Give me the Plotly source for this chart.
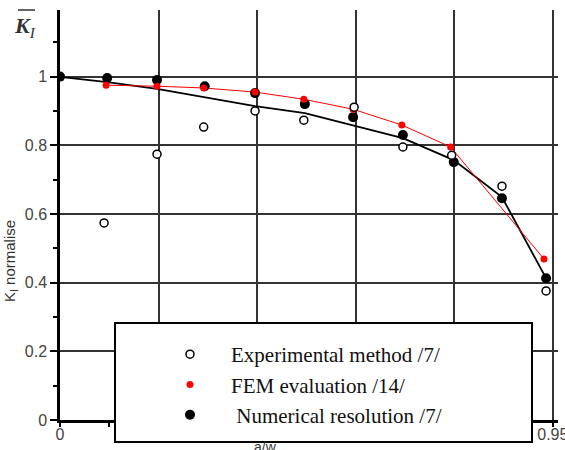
import plotly.graph_objects as go

# Experimental method /7/ (open circles)
exp_x = [0.085, 0.187, 0.277, 0.376, 0.470, 0.567, 0.661, 0.755, 0.852, 0.937]
exp_y = [0.574, 0.774, 0.853, 0.900, 0.873, 0.911, 0.795, 0.771, 0.681, 0.376]

# FEM evaluation /14/ (red)
fem_x = [0.089, 0.187, 0.277, 0.376, 0.470, 0.565, 0.659, 0.753, 0.933]
fem_y = [0.975, 0.972, 0.967, 0.955, 0.934, 0.905, 0.859, 0.795, 0.469]

# Numerical resolution /7/ (black dots)
num_x = [0.0, 0.091, 0.187, 0.279, 0.376, 0.472, 0.565, 0.661, 0.759, 0.852, 0.937]
num_y = [1.0, 0.996, 0.990, 0.972, 0.952, 0.920, 0.882, 0.830, 0.751, 0.646, 0.413]

# Black fitted curve
fit_x = [0.0, 0.091, 0.187, 0.279, 0.376, 0.472, 0.565, 0.661, 0.759, 0.852, 0.937]
fit_y = [0.999, 0.984, 0.964, 0.940, 0.914, 0.894, 0.859, 0.821, 0.757, 0.649, 0.413]

x_ticks = [0, 0.19, 0.38, 0.57, 0.76, 0.95]
x_labels = ["0", "", "", "", "", "0.95"]
y_ticks = [0, 0.2, 0.4, 0.6, 0.8, 1.0]
y_labels = ["0", "0.2", "0.4", "0.6", "0.8", "1"]

NB = "\u00a0"
fig = go.Figure()
fig.add_trace(go.Scatter(x=fit_x, y=fit_y, mode="lines", line=dict(color="black", width=1.8),
                         showlegend=False, hoverinfo="skip"))
fig.add_trace(go.Scatter(x=fem_x, y=fem_y, mode="lines", line=dict(color="red", width=1),
                         showlegend=False, hoverinfo="skip"))
fig.add_trace(go.Scatter(x=num_x, y=num_y, mode="markers", name=NB * 5 + "Numerical resolution /7/",
                         marker=dict(color="black", size=10), legendrank=3, legendgroup="c"))
fig.add_trace(go.Scatter(x=fem_x, y=fem_y, mode="markers", name=NB * 4 + "FEM evaluation /14/",
                         marker=dict(color="red", size=7), legendrank=2, legendgroup="b"))
fig.add_trace(go.Scatter(x=exp_x, y=exp_y, mode="markers", name=NB * 4 + "Experimental method /7/",
                         marker=dict(color="white", size=8, line=dict(color="black", width=1.5)),
                         legendrank=1, legendgroup="a"))

W, H = 565, 450
L, R, T, B = 60, 7, 10, 30
pw, ph = W - L - R, H - T - B

def px(xp):
    return (xp - L) / pw

def py(yp):
    return (H - B - yp) / ph

fig.update_layout(
    width=W, height=H,
    margin=dict(l=L, r=R, t=T, b=B, autoexpand=False),
    plot_bgcolor="white", paper_bgcolor="white",
    font=dict(family="Liberation Sans", color="#444"),
    xaxis=dict(range=[0, 0.96], tickvals=x_ticks, ticktext=x_labels,
               showgrid=True, gridcolor="#333", gridwidth=1.5,
               showline=True, linecolor="black", linewidth=2.5,
               ticks="outside", ticklen=4, tickwidth=1.5, tickcolor="black",
               ticklabeloverflow="allow", ticklabelstandoff=-6,
               minor=dict(dtick=0.095, ticks="outside", ticklen=4, tickcolor="black", showgrid=False),
               tickfont=dict(size=16, color="#444"), zeroline=False),
    yaxis=dict(range=[0, 1.194], tickvals=y_ticks, ticktext=y_labels,
               showgrid=True, gridcolor="#333", gridwidth=1.5,
               showline=True, linecolor="black", linewidth=2.5,
               ticks="outside", ticklen=7, tickwidth=1.5, tickcolor="black",
               minor=dict(dtick=0.1, ticks="outside", ticklen=4, tickcolor="black", showgrid=False),
               tickfont=dict(size=16, color="#444"), zeroline=False),
    legend=dict(x=px(170), y=py(334), xanchor="left", yanchor="top",
                bgcolor="rgba(0,0,0,0)", borderwidth=0,
                font=dict(family="Liberation Serif", size=21, color="#111"),
                traceorder="normal", tracegroupgap=0),
    shapes=[
        dict(type="rect", xref="paper", yref="paper", x0=px(115), x1=px(532), y0=py(442), y1=py(323),
             fillcolor="white", line=dict(color="black", width=2), layer="above"),
        dict(type="line", xref="paper", yref="paper", x0=px(18), x1=px(35), y0=py(10), y1=py(10),
             line=dict(color="#333", width=1.5)),
    ],
    annotations=[
        dict(text="<b><i>K</i></b><sub><i>I</i></sub>", xref="paper", yref="paper",
             x=px(12), y=py(11), xanchor="left", yanchor="top", showarrow=False,
             font=dict(family="Liberation Serif", size=22, color="#333")),
        dict(text="K<sub>I</sub> normalise", xref="paper", yref="paper", textangle=-90,
             x=px(10), y=py(261), xanchor="center", yanchor="middle", showarrow=False,
             font=dict(family="Liberation Sans", size=15, color="#333")),
        dict(text="a/w", xref="paper", yref="paper", x=px(265), y=py(437),
             xanchor="center", yanchor="top", showarrow=False,
             font=dict(family="Liberation Sans", size=14, color="#333")),
    ],
)

fig.write_html("out.html")
